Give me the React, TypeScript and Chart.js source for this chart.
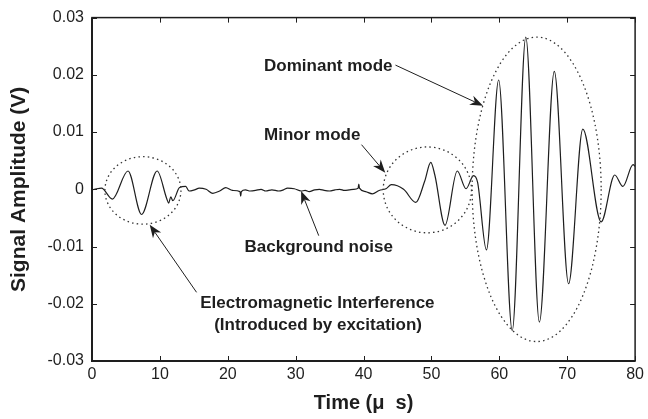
import React, { useEffect, useRef } from "react";
import { Chart, registerables } from "chart.js";

Chart.register(...registerables);

// ---- data ----
const times: number[] = [
  0, 0.7, 1.4, 3.0, 5.3, 7.3, 9.6, 11.0, 11.3, 11.6, 11.9, 12.9, 13.8, 14.3, 15.1, 15.8, 16.8,
  17.8, 18.8, 19.7, 20.7, 21.8, 21.9, 22.0, 22.6, 23.3, 24.1, 24.9, 25.6, 26.5, 27.5, 28.2, 28.8,
  29.8, 30.8, 31.4, 32.0, 32.8, 33.5, 34.2, 35.0, 35.8, 36.5, 37.2, 37.9, 38.5, 39.2, 39.3, 39.4,
  40.3, 41.3, 42.3, 43.3, 44.1, 45.9, 47.7, 49.0, 49.9, 50.5, 52.0, 53.8, 55.1, 56.2, 56.8,
  58.1, 59.9, 61.9, 63.9, 65.9, 68.1, 70.2, 72.3, 75.0, 77.0, 78.2, 79.7, 80.0,
];
const amplitudes: number[] = [
  -0.0001, 0.0001, 0.0002, -0.0017, 0.0032, -0.0044, 0.0032, -0.0016, -0.0024, -0.0013, -0.002,
  0.0003, 0.0005, -0.0003, -0.0001, 0.0002, 0.0, -0.0007, -0.0003, 0.0003, -0.0002, -0.0004,
  -0.0012, -0.0004, -0.0001, -0.0003, -0.0002, 0.0, -0.0003, -0.0001, -0.0003, -0.0001, 0.0002,
  0.0001, -0.0003, -0.0002, -0.0004, -0.0001, 0.0, -0.0002, -0.0003, -0.0001, 0.0, -0.0002,
  -0.0001, 0.0, 0.0002, 0.0009, 0.0002, -0.0004, -0.0008, -0.0002, 0.0001, 0.0008, 0.0, -0.0023,
  0.0014, 0.0047, 0.0025, -0.0063, 0.0032, 0.0001, 0.0024, 0.0012, -0.0106, 0.0191, -0.0247,
  0.0266, -0.0232, 0.0206, -0.0165, 0.0105, -0.0057, 0.0025, 0.0005, 0.0043, 0.004,
];
const xTickValues: number[] = [0, 10, 20, 30, 40, 50, 60, 70, 80];
const xTickLabels: string[] = ["0", "10", "20", "30", "40", "50", "60", "70", "80"];
const yTickValues: number[] = [-0.03, -0.02, -0.01, 0, 0.01, 0.02, 0.03];
const yTickLabels: string[] = ["-0.03", "-0.02", "-0.01", "0", "0.01", "0.02", "0.03"];

// annotation content (data coordinates)
const ellipseCx: number[] = [7.5, 49.4, 65.5];
const ellipseCy: number[] = [-0.0002, -0.0001, 0.0];
const ellipseRx: number[] = [5.6, 6.5, 9.5];
const ellipseRy: number[] = [0.0059, 0.0075, 0.0266];

const arrowFromX: number[] = [44.7, 39.7, 33.4, 15.4];
const arrowFromY: number[] = [0.0217, 0.0078, -0.0081, -0.018];
const arrowToX: number[] = [57.6, 43.2, 30.8, 8.5];
const arrowToY: number[] = [0.0146, 0.0029, -0.0003, -0.0062];

const noteTexts: string[] = [
  "Dominant mode",
  "Minor mode",
  "Background noise",
  "Electromagnetic Interference",
  "(Introduced by excitation)",
];
const noteX: number[] = [25.35, 25.35, 33.4, 33.2, 33.3];
const noteY: number[] = [0.0215, 0.0095, -0.0102, -0.02, -0.0237];
const noteAlign: CanvasTextAlign[] = ["left", "left", "center", "center", "center"];

const FONT = "'Liberation Sans', Arial, sans-serif";
const INK = "#1e1e1e";

function drawArrow(ctx: CanvasRenderingContext2D, x1: number, y1: number, x2: number, y2: number) {
  const ang = Math.atan2(y2 - y1, x2 - x1);
  const len = 13;
  const half = 5;
  const notch = 9;
  ctx.beginPath();
  ctx.moveTo(x1, y1);
  ctx.lineTo(x2 - Math.cos(ang) * notch, y2 - Math.sin(ang) * notch);
  ctx.stroke();
  const bx = x2 - Math.cos(ang) * len;
  const by = y2 - Math.sin(ang) * len;
  const nx = x2 - Math.cos(ang) * notch;
  const ny = y2 - Math.sin(ang) * notch;
  const px = -Math.sin(ang);
  const py = Math.cos(ang);
  ctx.beginPath();
  ctx.moveTo(x2, y2);
  ctx.lineTo(bx + px * half, by + py * half);
  ctx.lineTo(nx, ny);
  ctx.lineTo(bx - px * half, by - py * half);
  ctx.closePath();
  ctx.fill();
}

const annotationPlugin = {
  id: "annotations",
  afterDatasetsDraw(chart: any) {
    const ctx: CanvasRenderingContext2D = chart.ctx;
    const xs = chart.scales.x;
    const ys = chart.scales.y;
    ctx.save();
    // dotted ellipses
    ctx.strokeStyle = "#333";
    ctx.lineWidth = 1.3;
    ctx.setLineDash([1.5, 3.2]);
    for (let i = 0; i < ellipseCx.length; i++) {
      const cx = xs.getPixelForValue(ellipseCx[i]);
      const cy = ys.getPixelForValue(ellipseCy[i]);
      const rx = Math.abs(xs.getPixelForValue(ellipseCx[i] + ellipseRx[i]) - cx);
      const ry = Math.abs(ys.getPixelForValue(ellipseCy[i] + ellipseRy[i]) - cy);
      ctx.beginPath();
      ctx.ellipse(cx, cy, rx, ry, 0, 0, Math.PI * 2);
      ctx.stroke();
    }
    ctx.setLineDash([]);
    // arrows
    ctx.strokeStyle = INK;
    ctx.fillStyle = INK;
    ctx.lineWidth = 1;
    for (let i = 0; i < arrowFromX.length; i++) {
      drawArrow(
        ctx,
        xs.getPixelForValue(arrowFromX[i]),
        ys.getPixelForValue(arrowFromY[i]),
        xs.getPixelForValue(arrowToX[i]),
        ys.getPixelForValue(arrowToY[i])
      );
    }
    // texts
    ctx.font = `bold 17px ${FONT}`;
    ctx.textBaseline = "middle";
    for (let i = 0; i < noteTexts.length; i++) {
      ctx.textAlign = noteAlign[i];
      ctx.fillText(noteTexts[i], xs.getPixelForValue(noteX[i]), ys.getPixelForValue(noteY[i]));
    }
    ctx.restore();
  },
  afterDraw(chart: any) {
    const ctx: CanvasRenderingContext2D = chart.ctx;
    const { left, right, top, bottom } = chart.chartArea;
    const xs = chart.scales.x;
    const ys = chart.scales.y;
    ctx.save();
    ctx.strokeStyle = INK;
    ctx.lineWidth = 1.5;
    ctx.strokeRect(left, top, right - left, bottom - top);
    ctx.lineWidth = 2;
    ctx.beginPath();
    ctx.moveTo(left, top);
    ctx.lineTo(left, bottom);
    ctx.lineTo(right, bottom);
    ctx.stroke();
    ctx.lineWidth = 1;
    const tl = 5;
    ctx.beginPath();
    for (const v of xTickValues) {
      const px = Math.round(xs.getPixelForValue(v)) + 0.5;
      ctx.moveTo(px, bottom);
      ctx.lineTo(px, bottom - tl);
      ctx.moveTo(px, top);
      ctx.lineTo(px, top + tl);
    }
    for (const v of yTickValues) {
      const py = Math.round(ys.getPixelForValue(v)) + 0.5;
      ctx.moveTo(left, py);
      ctx.lineTo(left + tl, py);
      ctx.moveTo(right, py);
      ctx.lineTo(right - tl, py);
    }
    ctx.stroke();
    ctx.restore();
  },
};

export default function App() {
  const canvasRef = useRef<HTMLCanvasElement | null>(null);

  useEffect(() => {
    if (!canvasRef.current) return;
    const points = times.map((t, i) => ({ x: t, y: amplitudes[i] }));
    const chart = new Chart(canvasRef.current, {
      type: "line",
      data: {
        datasets: [
          {
            data: points,
            borderColor: INK,
            borderWidth: 1.2,
            pointRadius: 0,
            fill: false,
            cubicInterpolationMode: "monotone",
          },
        ],
      },
      options: {
        animation: false,
        responsive: true,
        maintainAspectRatio: false,
        layout: { padding: { top: 15, right: 10, left: 0, bottom: 0 } },
        plugins: { legend: { display: false }, tooltip: { enabled: false } },
        scales: {
          x: {
            type: "linear",
            min: 0,
            max: 80,
            grid: { display: false, drawTicks: false },
            border: { display: false },
            afterBuildTicks: (s: any) => {
              s.ticks = xTickValues.map((v) => ({ value: v }));
            },
            afterFit: (s: any) => {
              s.height = 58;
            },
            ticks: {
              autoSkip: false,
              maxRotation: 0,
              padding: 4,
              color: INK,
              font: { family: FONT, size: 16 },
              callback: (v: any) => xTickLabels[xTickValues.indexOf(Number(v))] ?? String(v),
            },
            title: {
              display: true,
              text: "Time (μ  s)",
              color: INK,
              font: { family: FONT, size: 20, weight: "bold" },
              padding: { top: 0, bottom: 4 },
            },
          },
          y: {
            type: "linear",
            min: -0.03,
            max: 0.03,
            grid: { display: false, drawTicks: false },
            border: { display: false },
            afterBuildTicks: (s: any) => {
              s.ticks = yTickValues.map((v) => ({ value: v }));
            },
            afterFit: (s: any) => {
              s.width = 92;
            },
            ticks: {
              autoSkip: false,
              padding: 8,
              color: INK,
              font: { family: FONT, size: 16 },
              callback: (v: any) => {
                const idx = yTickValues.findIndex((t) => Math.abs(t - Number(v)) < 1e-9);
                return idx >= 0 ? yTickLabels[idx] : String(v);
              },
            },
            title: {
              display: true,
              text: "Signal Amplitude (V)",
              color: INK,
              font: { family: FONT, size: 21, weight: "bold" },
              padding: { top: 7, bottom: 0 },
            },
          },
        },
      },
      plugins: [annotationPlugin],
    });
    return () => chart.destroy();
  }, []);

  return (
    <div style={{ position: "absolute", left: 0, top: 0, width: 648, height: 419, background: "#fff" }}>
      <canvas ref={canvasRef} />
    </div>
  );
}
